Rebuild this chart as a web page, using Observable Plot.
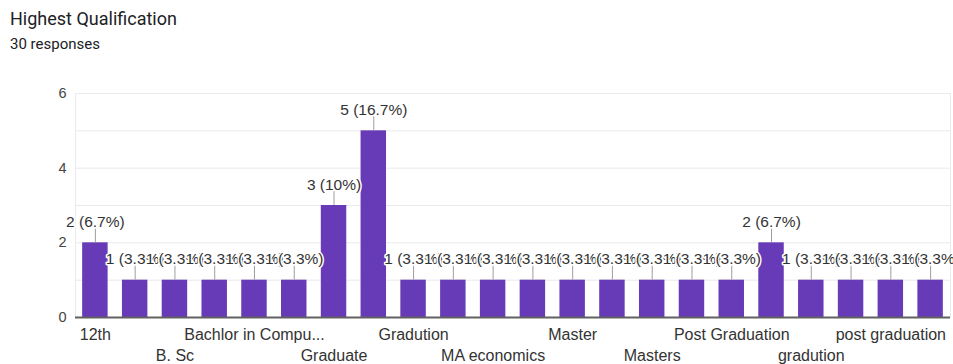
<!DOCTYPE html>
<html>
<head>
<meta charset="utf-8">
<script src="https://cdn.jsdelivr.net/npm/d3@7"></script>
<script src="https://cdn.jsdelivr.net/npm/@observablehq/plot@0.6"></script>
<style>
  html, body { margin: 0; padding: 0; background: #fff; }
  #wrap { position: relative; width: 953px; height: 364px; overflow: hidden; }
  #title { position: absolute; left: 10px; top: 8px; font-family: Roboto, "Liberation Sans", sans-serif; font-size: 18px; line-height: 22px; color: #202124; white-space: nowrap; }
  #subtitle { position: absolute; left: 10px; top: 36px; font-family: Roboto, "Liberation Sans", sans-serif; font-size: 15px; line-height: 16px; color: #202124; white-space: nowrap; }
  #chart { position: absolute; left: 0; top: 56px; }
</style>
</head>
<body>
<div id="wrap">
  <div id="title">Highest Qualification</div>
  <div id="subtitle">30 responses</div>
  <div id="chart"></div>
</div>
<script>
const categories = ["12th","B. Com","B. Sc","B.Tech","Bachlor in Computer Application","Diploma","Graduate","Graduation","Gradution","M.Com","MA economics","MBA","Master","Master degree","Masters","PG","Post Graduation","Post graduation","gradution","master","post graduation","postgraduate"];
const counts = [2,1,1,1,1,1,3,5,1,1,1,1,1,1,1,1,1,2,1,1,1,1];
const totalResponses = 30;
const yTicks = [0, 2, 4, 6];
const gridValues = [1, 2, 3, 4, 5];
const topRowLabels = ["12th","Bachlor in Computer Application","Gradution","Master","Post Graduation","post graduation"];
const bottomRowLabels = ["B. Sc","Graduate","MA economics","Masters","gradution"];

const data = categories.map((c, i) => ({cat: c, value: counts[i]}));
const labelText = d => `${d.value} (${+(d.value / totalResponses * 100).toFixed(1)}%)`;
const trunc = d => d.length > 18 ? d.slice(0, 16) + "..." : d;
const font = "'Liberation Sans', Arial, sans-serif";

const chart = Plot.plot({
  width: 953,
  height: 308,
  marginLeft: 75,
  marginRight: 3,
  marginTop: 37,
  marginBottom: 47,
  style: {fontFamily: font, background: "white", overflow: "hidden"},
  x: {type: "band", domain: categories, paddingInner: 0.36, paddingOuter: 0.18, round: false, axis: null},
  y: {domain: [0, 6], axis: null},
  marks: [
    Plot.frame({stroke: "#ebebeb"}),
    Plot.gridY(gridValues, {stroke: "#e9e9e9", strokeOpacity: 1}),
    Plot.barY(data, {x: "cat", y: "value", fill: "#673ab7"}),
    Plot.ruleY([0], {stroke: "#616161", strokeWidth: 2}),
    Plot.ruleX(data, {x: "cat", y1: "value", y2: "value", insetBottom: 14, stroke: "#9e9e9e", strokeWidth: 1}),
    Plot.text(data, {x: "cat", y: "value", text: labelText, dy: -16, lineAnchor: "bottom", fontSize: 15.5, fill: "#333", stroke: "white", strokeWidth: 3}),
    Plot.axisY(yTicks, {tickSize: 0, tickPadding: 9, fontSize: 14.5, color: "#444", label: null}),
    Plot.axisX(topRowLabels, {tickSize: 0, tickPadding: 11, fontSize: 16, color: "#333", label: null, tickFormat: trunc}),
    Plot.axisX(bottomRowLabels, {tickSize: 0, tickPadding: 32, fontSize: 16, color: "#333", label: null, tickFormat: trunc})
  ]
});
document.getElementById("chart").appendChild(chart);
</script>
</body>
</html>
